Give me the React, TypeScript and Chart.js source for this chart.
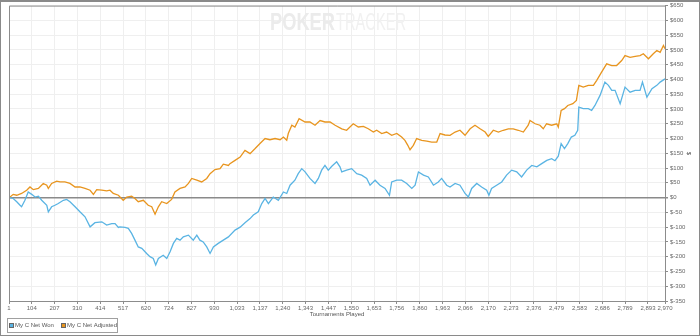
import React, { useEffect, useRef } from "react";
import { Chart, registerables } from "chart.js";

Chart.register(...registerables);

const xTickValues = [1, 104, 207, 310, 414, 517, 620, 724, 827, 930, 1033, 1137, 1240, 1343, 1447, 1550, 1653, 1756, 1860, 1963, 2066, 2170, 2273, 2376, 2479, 2583, 2686, 2789, 2893, 2970];

const wonGames = [1, 6, 20, 36, 51, 58, 73, 88, 104, 119, 134, 149, 172, 179, 194, 209, 224, 247, 262, 277, 300, 322, 345, 368, 390, 421, 443, 466, 481, 496, 503, 526, 541, 556, 571, 586, 602, 624, 639, 654, 665, 677, 699, 715, 730, 745, 760, 775, 790, 813, 835, 851, 865, 880, 896, 911, 926, 948, 971, 994, 1024, 1047, 1069, 1092, 1107, 1129, 1145, 1160, 1175, 1197, 1220, 1243, 1258, 1273, 1295, 1310, 1326, 1341, 1363, 1386, 1401, 1416, 1431, 1446, 1462, 1484, 1499, 1507, 1529, 1552, 1575, 1597, 1620, 1635, 1658, 1680, 1703, 1723, 1733, 1756, 1778, 1801, 1824, 1839, 1854, 1877, 1899, 1922, 1944, 1959, 1982, 1997, 2020, 2042, 2065, 2080, 2095, 2118, 2140, 2163, 2173, 2185, 2208, 2231, 2253, 2276, 2299, 2321, 2344, 2367, 2390, 2412, 2435, 2457, 2472, 2487, 2500, 2515, 2530, 2546, 2562, 2575, 2580, 2600, 2623, 2638, 2653, 2676, 2698, 2714, 2729, 2744, 2767, 2789, 2812, 2835, 2857, 2868, 2888, 2911, 2933, 2948, 2970];
const wonValues = [0, 0, -3, -14, -26, -31, -9, 19, 11, 2, 5, -9, -26, -48, -31, -26, -20, -9, -6, -14, -31, -48, -65, -99, -85, -82, -93, -88, -88, -101, -99, -101, -104, -121, -144, -167, -172, -189, -200, -206, -228, -206, -195, -206, -183, -155, -138, -144, -133, -127, -144, -127, -144, -150, -167, -189, -167, -155, -144, -133, -110, -100, -85, -71, -59, -48, -20, -3, -20, 2, -9, 19, 14, 42, 59, 81, 98, 87, 65, 48, 65, 93, 109, 93, 106, 121, 104, 87, 93, 98, 81, 76, 65, 42, 59, 42, 31, 8, 53, 59, 59, 48, 31, 42, 87, 76, 70, 42, 53, 65, 42, 36, 48, 42, 14, 2, 31, 48, 36, 25, 8, 31, 42, 53, 76, 93, 87, 70, 93, 109, 104, 115, 126, 132, 125, 140, 183, 166, 183, 205, 211, 228, 306, 301, 301, 295, 312, 346, 391, 380, 363, 363, 318, 374, 357, 363, 363, 391, 340, 369, 380, 391, 402];

const adjGames = [1, 6, 20, 36, 58, 81, 96, 111, 134, 156, 172, 179, 194, 217, 232, 254, 277, 300, 322, 345, 368, 383, 398, 421, 443, 458, 473, 496, 518, 534, 556, 571, 586, 609, 631, 647, 662, 677, 692, 715, 737, 752, 775, 798, 813, 828, 851, 873, 896, 911, 933, 956, 971, 994, 1001, 1024, 1047, 1069, 1092, 1115, 1137, 1160, 1182, 1205, 1228, 1243, 1258, 1265, 1281, 1295, 1314, 1341, 1363, 1386, 1409, 1431, 1454, 1477, 1507, 1529, 1559, 1582, 1605, 1627, 1650, 1665, 1688, 1710, 1733, 1756, 1778, 1793, 1806, 1816, 1831, 1846, 1869, 1892, 1914, 1937, 1952, 1974, 1997, 2020, 2042, 2065, 2088, 2110, 2133, 2156, 2170, 2193, 2216, 2238, 2261, 2283, 2306, 2329, 2351, 2359, 2382, 2404, 2419, 2434, 2457, 2480, 2487, 2500, 2515, 2530, 2553, 2569, 2580, 2600, 2623, 2646, 2661, 2683, 2706, 2729, 2751, 2774, 2789, 2812, 2835, 2857, 2872, 2895, 2917, 2933, 2948, 2963, 2970];
const adjValues = [0, 2, 11, 8, 14, 25, 36, 27, 31, 48, 42, 31, 48, 56, 53, 53, 48, 36, 36, 31, 25, 11, 27, 25, 23, 25, 14, 8, -9, 2, 5, -3, -14, -9, -26, -31, -56, -31, -14, -20, -6, 19, 31, 36, 48, 65, 59, 53, 65, 81, 95, 98, 113, 109, 115, 126, 137, 160, 149, 166, 183, 200, 196, 200, 196, 205, 194, 217, 245, 239, 267, 256, 256, 245, 261, 256, 256, 245, 233, 228, 250, 239, 241, 233, 222, 228, 217, 222, 211, 217, 205, 194, 177, 162, 177, 200, 194, 191, 188, 188, 217, 212, 211, 222, 228, 211, 233, 245, 233, 222, 207, 228, 222, 228, 233, 233, 228, 222, 245, 261, 250, 245, 233, 250, 245, 250, 239, 295, 301, 312, 318, 329, 380, 374, 380, 380, 397, 425, 453, 447, 447, 464, 481, 475, 478, 481, 487, 470, 487, 498, 492, 515, 504];

const seriesNames = ["My C Net Won", "My C Net Adjusted"];
const seriesColors = ["#5AB4E3", "#E8951F"];

const FONT = "'Liberation Sans', Arial, sans-serif";

const decorPlugin = {
  id: "decor",
  beforeDatasetsDraw(chart: any) {
    const ctx = chart.ctx;
    ctx.save();
    ctx.textBaseline = "middle";
    ctx.textAlign = "left";
    ctx.font = `bold 24px ${FONT}`;
    const w1 = ctx.measureText("POKER").width;
    ctx.fillStyle = "#ebebeb";
    ctx.save();
    ctx.translate(270, 23);
    ctx.scale(65 / w1, 1);
    ctx.fillText("POKER", 0, 0);
    ctx.restore();
    ctx.font = `24px ${FONT}`;
    const w2 = ctx.measureText("TRACKER").width;
    ctx.fillStyle = "#f1f1f1";
    ctx.save();
    ctx.translate(336, 23);
    ctx.scale(70 / w2, 1);
    ctx.fillText("TRACKER", 0, 0);
    ctx.restore();
    ctx.restore();
  },
  afterDraw(chart: any) {
    const ctx = chart.ctx;
    const a = chart.chartArea;
    ctx.save();
    ctx.strokeStyle = "#8c8c8c";
    ctx.lineWidth = 1;
    ctx.beginPath();
    ctx.moveTo(a.left + 0.5, a.bottom);
    ctx.lineTo(a.left + 0.5, a.top + 0.5);
    ctx.lineTo(a.right, a.top + 0.5);
    ctx.stroke();
    ctx.strokeStyle = "#8a8a8a";
    ctx.strokeRect(0.5, 0.5, 699, 335);
    ctx.beginPath();
    ctx.moveTo(0, 1.5);
    ctx.lineTo(700, 1.5);
    ctx.stroke();
    ctx.strokeStyle = "#a0a0a0";
    ctx.strokeRect(7.5, 318.5, 110, 14);
    ctx.font = `6px ${FONT}`;
    ctx.textBaseline = "middle";
    ctx.textAlign = "left";
    const items = [
      { sx: 9.5, tx: 15 },
      { sx: 61.5, tx: 67 },
    ];
    items.forEach((it, i) => {
      ctx.fillStyle = seriesColors[i];
      ctx.fillRect(it.sx, 323.5, 4, 4);
      ctx.strokeStyle = "#666";
      ctx.strokeRect(it.sx, 323.5, 4, 4);
      ctx.fillStyle = "#555";
      ctx.fillText(seriesNames[i], it.tx, 325.5);
    });
    ctx.restore();
  },
};

export default function App() {
  const ref = useRef<HTMLCanvasElement>(null);
  useEffect(() => {
    document.body.style.margin = "0";
    const canvas = ref.current!;
    const chart = new Chart(canvas, {
      type: "line",
      data: {
        datasets: [
          {
            label: seriesNames[0],
            data: wonGames.map((g, i) => ({ x: g, y: wonValues[i] })),
            borderColor: seriesColors[0],
            borderWidth: 1.3,
            pointRadius: 0,
            tension: 0,
          },
          {
            label: seriesNames[1],
            data: adjGames.map((g, i) => ({ x: g, y: adjValues[i] })),
            borderColor: seriesColors[1],
            borderWidth: 1.3,
            pointRadius: 0,
            tension: 0,
          },
        ],
      },
      options: {
        animation: false,
        responsive: false,
        maintainAspectRatio: false,
        layout: { padding: { left: 9, top: 5, right: 0, bottom: 13 } },
        plugins: { legend: { display: false }, tooltip: { enabled: false } },
        scales: {
          x: {
            type: "linear",
            min: 1,
            max: 2970,
            afterBuildTicks: (s: any) => {
              s.ticks = xTickValues.map((v) => ({ value: v }));
            },
            afterFit: (s: any) => {
              s.height = 22;
            },
            ticks: {
              autoSkip: false,
              maxRotation: 0,
              padding: 1,
              color: "#666",
              font: { family: FONT, size: 6 },
              callback: (v: any) => Number(v).toLocaleString("en-US"),
            },
            grid: { color: "#efefef", tickLength: 3, tickColor: "#8c8c8c" },
            border: { display: true, color: "#8c8c8c" },
            title: {
              display: true,
              text: "Tournaments Played",
              color: "#555",
              font: { family: FONT, size: 6 },
              padding: { top: 0, bottom: 5 },
            },
          },
          y: {
            position: "right",
            min: -350,
            max: 650,
            afterFit: (s: any) => {
              s.width = 35;
            },
            ticks: {
              stepSize: 50,
              padding: 2,
              color: "#666",
              font: { family: FONT, size: 6 },
              callback: (v: any) => "$" + v,
            },
            grid: {
              color: (c: any) => (c.tick && c.tick.value === 0 ? "#8a8a8a" : "#efefef"),
              lineWidth: (c: any) => (c.tick && c.tick.value === 0 ? 1.5 : 1),
              tickLength: 3,
              tickColor: "#8c8c8c",
            },
            border: { display: true, color: "#8c8c8c" },
            title: {
              display: true,
              text: "$",
              color: "#555",
              font: { family: FONT, size: 6 },
              padding: { top: 8, bottom: 0 },
            },
          },
        },
      },
      plugins: [decorPlugin],
    });
    return () => chart.destroy();
  }, []);
  return <canvas ref={ref} width={700} height={336} style={{ display: "block", width: 700, height: 336 }} />;
}
